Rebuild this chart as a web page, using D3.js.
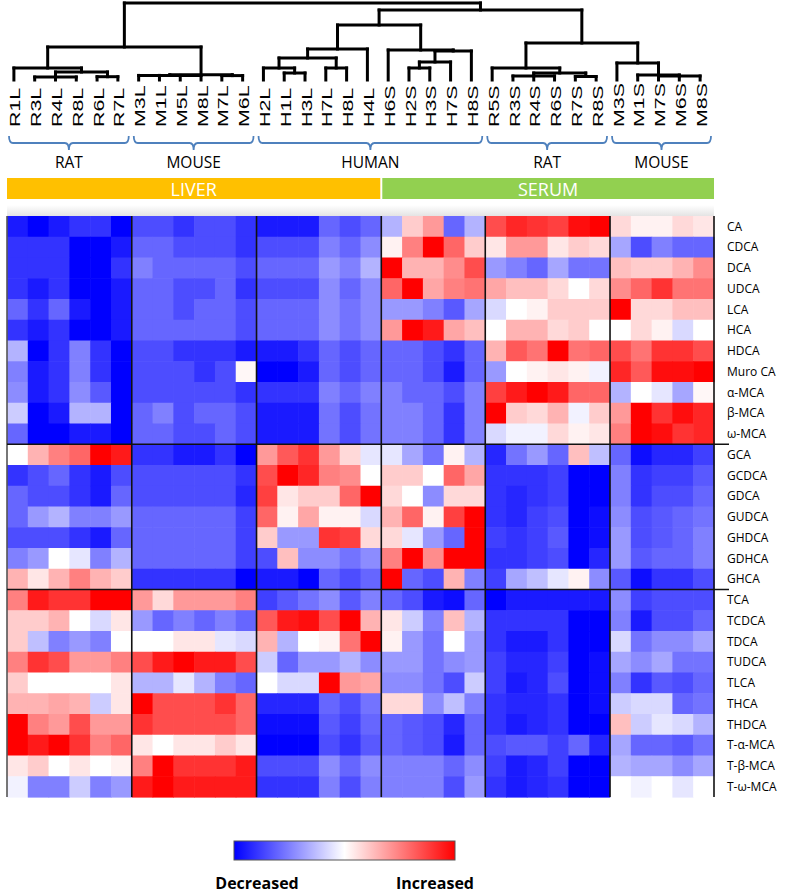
<!DOCTYPE html>
<html><head><meta charset="utf-8">
<script src="https://cdn.jsdelivr.net/npm/d3@7"></script>
<style>body{margin:0;background:#fff}svg{display:block}</style>
</head><body>
<svg id="chart" width="797" height="893"></svg>
<script>
// ---------------- DATA ----------------
const columns = ["R1L","R3L","R4L","R8L","R6L","R7L","M3L","M1L","M5L","M8L","M7L","M6L",
  "H2L","H1L","H3L","H7L","H8L","H4L","H6S","H2S","H3S","H7S","H8S",
  "R5S","R3S","R4S","R6S","R7S","R8S","M3S","M1S","M7S","M6S","M8S"];
const rowNames = ["CA","CDCA","DCA","UDCA","LCA","HCA","HDCA","Muro CA","α-MCA","β-MCA","ω-MCA",
  "GCA","GCDCA","GDCA","GUDCA","GHDCA","GDHCA","GHCA",
  "TCA","TCDCA","TDCA","TUDCA","TLCA","THCA","THDCA","T-α-MCA","T-β-MCA","T-ω-MCA"];
// relative change, in tenths (-10 strongest decrease, +10 strongest increase)
// column order: rat liver(6) | mouse liver(6) | human liver(6) | human serum(5) | rat serum(6) | mouse serum(5)
const freeAcids = [
 [-9,-10,-9,-8,-8,-10, -7,-7,-8,-7,-7,-8, -9,-9,-9,-6,-7,-6, -3,2,4,-6,-3, 7,8.5,8,7.5,9.5,10, 1.5,0.5,0.5,1.5,1],
 [-8,-8,-8,-10,-10,-9, -6,-6,-7,-7,-7,-8, -7,-7,-7,-5,-6,-4.5, 0.5,5,10,6,2, 1,4,4,1,2,1.5, -3.5,-7,-5,-6,-6],
 [-8,-8,-8,-10,-10,-8, -5,-6,-6,-6,-6,-7, -6,-6,-6,-4,-5,-3, 10,3,3,4.5,7, -4,-5,-6,-3.5,-5.5,-5.5, 2.5,2,2,3,4.5],
 [-8,-9,-8,-10,-10,-9, -6,-6,-7,-7,-6,-8, -7,-7,-7,-4.5,-6,-4.5, 6,10,3.5,5,5.5, 3.5,2.5,2.5,1.5,0,1.5, 4.5,6,8,5.5,5.5],
 [-6,-8,-6,-9,-10,-9, -6,-6,-7,-6,-6,-7, -6,-6,-6,-4.5,-5.5,-4.5, -4,-4,-5,-6.5,-3.5, -1.5,0,0.5,2,2,2, 10,1.5,1.5,2.5,2.5],
 [-8,-9,-8,-10,-10,-9, -6,-6,-6,-6,-6,-7, -6,-6,-6,-4.5,-5.5,-4.5, 4,10,9,3.5,2.5, 0,3,3,1.5,2,0, 0,1.5,0.5,-1.5,0],
 [-3,-10,-8,-5,-8,-10, -7,-7,-8,-8,-8,-9, -9,-9,-8,-6,-7,-6, -6,-6,-7,-8,-6, 3,6.5,5.5,10,5.5,6, 7,5.5,8,8,7],
 [-5,-9,-8,-5,-8,-10, -7,-7,-7,-8,-7,0.3, -10,-10,-9,-6,-7,-6, -6,-6,-7,-9,-6, -4,0,0.5,1,0.5,-0.5, 8.5,6.5,9.5,9.5,10],
 [-4.5,-9,-8,-4.5,-6.5,-10, -7,-7,-7,-7,-7,-8, -8,-8,-8,-5,-6,-5, -5,-6,-6,-7,-5, 7.5,9,10,9,6,6, -3,0,-1,-3.5,0.3],
 [-2,-10,-9,-3,-3,-10, -6,-5,-7,-6,-6,-7, -9,-9,-9,-5.5,-7,-5.5, -5,-5,-6,-8,-5, 10,2,1.5,3,-0.5,2, 4,10,8,9.5,8.5],
 [-6,-10,-10,-9,-9,-10, -6,-6,-7,-7,-6,-7, -9,-9,-9,-5.5,-7,-5.5, -5,-5,-6,-8,-5, -1.5,-0.5,-0.5,1.5,0.5,1, 5,10,9.5,8,8.5]
];
const glycineAcids = [
 [0,3,5,6,10,9, -8,-8,-9,-9,-8,-10, 4,6.5,8,4,1.5,-1, -1,-3.5,-5.5,0.5,-3, -8.5,-5.5,-4,-6,2.5,-2.5, -6,-9.5,-8.5,-8.5,-7.5],
 [-8,-7,-6,-8,-9,-7, -7,-7,-7,-7,-7,-8, 7,10,8.5,5,4.5,0, 2,2,0,6,3.5, -8,-8,-8,-7.5,-10,-10, -5,-8,-7.5,-7.5,-6.5],
 [-6,-7,-7,-8,-9,-6, -7,-7,-7,-7,-7,-8.5, 7.5,1,2,2,6,10, 1.5,0,-4.5,1.5,1.5, -8,-8.5,-8,-7.5,-10,-10, -5,-8,-7,-7,-6],
 [-6,-4,-3,-5,-5,-4, -6,-6,-6,-6,-6,-7.5, 6,0.5,3.5,0.5,0.5,-1.5, 3,6,0.5,7.5,10, -8,-8.5,-7.5,-7,-10,-9.5, -4.5,-7,-6.5,-6,-5.5],
 [-7,-7,-7,-8,-9,-6, -6,-6,-6,-6,-6,-7.5, 2,-4,-4,8,7.5,1.5, 1.5,-1,-4,-6,10, -7.5,-8,-7.5,-6.5,-10,-9.5, -4,-7,-6.5,-6,-5],
 [-5,-4,0,-1,-5,-3, -6,-6,-6,-6,-6,-7.5, -7,2.5,-4.5,-4.5,-5.5,-4.5, 5,10,4.5,10,10, -8,-8,-7.5,-7,-10,-8.5, -4,-6.5,-6,-6,-5],
 [3,1,3,5,3,2, -8,-8,-8,-8,-8,-10, -9,-9,-10,-6,-7,-6, 10,-6,-7,3,-5, -7.5,-3.5,-2.5,-1,0.5,-4.5, -6.5,-9.5,-8,-8,-7]
];
const taurineAcids = [
 [5,9,8,8,10,10, 4,1.5,4,4,4,5, -7.5,-6.5,-5.5,-4.5,-6.5,-5, -6,-7,-9,-9.5,-6, -10,-9,-9,-9,-9,-9, -4.5,-7.5,-7,-7,-7],
 [2,2,3,0,-1.5,1, -4,-6,-5,-6,-5,-6, 6.5,9,9.5,7,10,3, 1,-2,-5,2.5,-3, -8,-8,-8,-8,-10,-10, -5,-9,-7,-7,-6],
 [2,-2.5,-5,-4,-5,0, 0,0,1,1,-1,-1.5, 3,-3,0,0.5,5.5,10, 0.5,-4,-5.5,0,-4, -8,-9,-9,-8,-10,-10, -1.5,-5.5,-4.5,-4.5,-3.5],
 [5,8,7,4,4,5, 7,9,10,9,9,7, -2,-6,-4,-4,-3,-4.5, -4,-4,-5.5,-4.5,-4, -7.5,-8.5,-8.5,-7.5,-10,-9.5, -3.5,-4.5,-3.5,-5.5,-5.5],
 [2,0,0,0,0,1, -3,-3,-1,-3,-5,-6, 0,-1.5,-1.5,10,4,3.5, -4.5,-4.5,-5.5,-7,-2, -7.5,-9,-8.5,-7,-10,-9.5, -5,-8,-6.5,-7,-6],
 [3,3,3.5,3,-2,1, 10,7,7,7,8,6, -8.5,-8.5,-8.5,-6,-7,-5.5, 1.5,1.5,-4.5,-2.5,-5, -8,-8.5,-8.5,-8,-10,-9.5, -2,-1.5,-1.5,-6,-5.5],
 [10,5,4,7,4,4, 8,7,7,7,7,6, -9.5,-9.5,-9.5,-6.5,-7.5,-6, -6,-6.5,-7,-8.5,-6, -8,-9,-8.5,-8,-10,-10, 2.5,-2,-1,-1.5,-3],
 [10,9,10,8,5,6, 1,0,1,1,2,1, -10,-10,-10,-7,-8,-6.5, -6,-6.5,-7,-9,-6, -7,-6.5,-6.5,-7.5,-6,-8.5, -3.5,-6,-6,-6.5,-5.5],
 [1,2,0,1,0,0.5, 5,10,8,8,8,9, -7,-7,-7,-4.5,-6,-4.5, -5,-5,-5,-6,-4.5, -7.5,-9,-8.5,-7.5,-10,-10, -3,-3.5,-3.5,-4.5,-3.5],
 [-0.5,-5,-5,-2,-5,-4, 9,10,9,9,9,9, -8,-8,-8,-5,-7,-5, -5,-5,-5,-7,-4, -8,-9,-8.5,-8,-10,-10, 0,-0.5,0,-1,0]
];
const speciesGroups = [
 {label:"RAT",   from:"R1L", to:"R7L"},
 {label:"MOUSE", from:"M3L", to:"M6L"},
 {label:"HUMAN", from:"H2L", to:"H8S"},
 {label:"RAT",   from:"R5S", to:"R8S"},
 {label:"MOUSE", from:"M3S", to:"M8S"}
];
const tissueGroups = [
 {label:"LIVER", from:"R1L", to:"H4L"},
 {label:"SERUM", from:"H6S", to:"M8S"}
];
const colBreaks = ["M3L","H2L","H6S","R5S","M3S"];
const rowBreaks = ["GCA","TCA"];
// dendrogram: merge heights (arbitrary distance units)
const tree = {h:77, children:[
  {h:33, children:[
    {h:12, children:[{name:"R1L"},
      {h:8, children:[
        {h:3, children:[{name:"R3L"},{name:"R4L"},{name:"R8L"}]},
        {h:3.3, children:[{name:"R6L"},{name:"R7L"}]}]}]},
    {h:5.3, children:[
      {h:4.6, children:[{name:"M3L"},{name:"M1L"},{name:"M5L"},{name:"M8L"}]},
      {h:4.4, children:[{name:"M7L"},{name:"M6L"}]}]}]},
  {h:70, children:[
    {h:55, children:[
      {h:31, children:[
        {h:22, children:[
          {h:12, children:[{name:"H2L"},{h:7, children:[{name:"H1L"},{name:"H3L"}]}]},
          {h:12, children:[{name:"H7L"},{name:"H8L"}]}]},
        {name:"H4L"}]},
      {h:30, children:[{name:"H6S"},
        {h:29, children:[
          {h:18, children:[{h:12, children:[{name:"H2S"},{name:"H3S"}]},{name:"H7S"}]},
          {name:"H8S"}]}]}]},
    {h:37, children:[
      {h:12, children:[{name:"R5S"},
        {h:7, children:[
          {h:4, children:[{name:"R3S"},{name:"R4S"},{name:"R6S"}]},
          {h:3.5, children:[{name:"R7S"},{name:"R8S"}]}]}]},
      {h:17, children:[{name:"M3S"},
        {h:5, children:[{name:"M1S"},{h:4, children:[{name:"M7S"},{name:"M6S"},{name:"M8S"}]}]}]}]}]}]};

// ---------------- DRAW ----------------
const values = [...freeAcids, ...glycineAcids, ...taurineAcids];
const svg = d3.select("#chart");
const x = d3.scaleBand().domain(columns).range([7, 714]);
const y = d3.scaleBand().domain(rowNames).range([216, 797]);
const color = d3.scaleLinear().domain([-10, 0, 10]).range(["#0000ff", "#ffffff", "#ff0000"]);
const hScale = d3.scaleLinear().domain([0, 77]).range([80, 3]);
const bw = x.bandwidth(), bh = y.bandwidth();

const defs = svg.append("defs");
// faint shadow above heatmap
const sh = defs.append("linearGradient").attr("id", "shadow").attr("x1", 0).attr("x2", 0).attr("y1", 0).attr("y2", 1);
sh.append("stop").attr("offset", "0%").attr("stop-color", "#ffffff");
sh.append("stop").attr("offset", "100%").attr("stop-color", "#e4e4e4");
svg.append("rect").attr("x", 7).attr("y", 205).attr("width", 707).attr("height", 11).attr("fill", "url(#shadow)");

// heatmap cells
const cells = [];
values.forEach((row, i) => row.forEach((v, j) => cells.push({r: rowNames[i], c: columns[j], v})));
svg.append("g").selectAll("rect").data(cells).join("rect")
  .attr("x", d => x(d.c)).attr("y", d => y(d.r))
  .attr("width", bw + 0.6).attr("height", bh + 0.6)
  .attr("fill", d => color(d.v));

// separators
const sep = svg.append("g").attr("stroke", "#111").attr("stroke-width", 1.6);
colBreaks.forEach(c => sep.append("line").attr("x1", x(c)).attr("x2", x(c)).attr("y1", 216).attr("y2", 797));
sep.append("line").attr("x1", 714).attr("x2", 714).attr("y1", 216).attr("y2", 797);
sep.append("line").attr("x1", 7).attr("x2", 7).attr("y1", 216).attr("y2", 797).attr("stroke", "#555");
rowBreaks.forEach(r => sep.append("line").attr("x1", 7).attr("x2", 729).attr("y1", y(r)).attr("y2", y(r)));

// row labels
svg.append("g").selectAll("text").data(rowNames).join("text")
  .attr("x", 727).attr("y", d => y(d) + bh / 2).attr("dy", "0.35em")
  .attr("font-family", "Open Sans, Liberation Sans, sans-serif").attr("font-size", 12)
  .attr("fill", "#000").text(d => d);

// column labels (stretched, rotated)
svg.append("g").selectAll("text").data(columns).join("text")
  .attr("transform", d => `translate(${x(d) + bw / 2 - 2.5},127) rotate(-90) scale(1.38,1)`)
  .attr("dy", "0.36em")
  .attr("font-family", "Liberation Sans, Arial, sans-serif").attr("font-size", 15.5)
  .attr("fill", "#000").text(d => d);

// dendrogram
const root = d3.hierarchy(tree);
root.eachAfter(n => {
  if (!n.children) { n.px = x(n.data.name) + bw / 2 - 3.5; n.py = hScale(0); }
  else { n.px = (n.children[0].px + n.children[n.children.length - 1].px) / 2; n.py = hScale(n.data.h); }
});
const dg = svg.append("g").attr("stroke", "#000").attr("stroke-width", 3).attr("fill", "none").attr("stroke-linecap", "square");
root.each(n => {
  if (!n.children) return;
  const kids = n.children;
  dg.append("line").attr("x1", kids[0].px).attr("x2", kids[kids.length - 1].px).attr("y1", n.py).attr("y2", n.py);
  kids.forEach(k => dg.append("line").attr("x1", k.px).attr("x2", k.px).attr("y1", n.py).attr("y2", k.py));
});

// species brackets
const bg = svg.append("g");
speciesGroups.forEach(g => {
  const x0 = x(g.from) + 2, x1 = x(g.to) + bw - 3, xm = (x0 + x1) / 2;
  const yb = 143, r = 4;
  bg.append("path")
    .attr("d", `M${x0},${yb - 7} Q${x0},${yb} ${x0 + r},${yb} L${xm - r},${yb} Q${xm},${yb} ${xm},${yb + 7} Q${xm},${yb} ${xm + r},${yb} L${x1 - r},${yb} Q${x1},${yb} ${x1},${yb - 7}`)
    .attr("fill", "none").attr("stroke", "#4f81bd").attr("stroke-width", 1.8);
  bg.append("text").attr("x", xm).attr("y", 168).attr("text-anchor", "middle")
    .attr("font-family", "Open Sans, sans-serif").attr("font-size", 15.5).attr("fill", "#000").text(g.label);
});

// tissue bars
const tissueColor = d3.scaleOrdinal().domain(["LIVER", "SERUM"]).range(["#ffc000", "#92d050"]);
tissueGroups.forEach((g, i) => {
  const x0 = x(g.from) + (i ? 1 : 0), x1 = x(g.to) + bw - (i ? 0 : 1);
  svg.append("rect").attr("x", x0).attr("y", 178).attr("width", x1 - x0).attr("height", 21).attr("fill", tissueColor(g.label));
  svg.append("text").attr("x", (x0 + x1) / 2).attr("y", 196).attr("text-anchor", "middle")
    .attr("font-family", "Open Sans, sans-serif").attr("font-size", 18).attr("fill", "#fff").text(g.label);
});

// legend
const grad = defs.append("linearGradient").attr("id", "lg");
[-10, 0, 10].forEach((v, i) => grad.append("stop").attr("offset", `${i * 50}%`).attr("stop-color", color(v)));
svg.append("rect").attr("x", 234).attr("y", 841).attr("width", 221).attr("height", 19)
  .attr("fill", "url(#lg)").attr("stroke", "#555").attr("stroke-width", 1);
const legendLabels = ["Decreased", "Increased"];
svg.selectAll(".leg").data(legendLabels).join("text").attr("class", "leg")
  .attr("x", (d, i) => i ? 435 : 257).attr("y", 889).attr("text-anchor", "middle")
  .attr("font-family", "Open Sans, sans-serif").attr("font-weight", "bold").attr("font-size", 16)
  .attr("fill", "#000").text(d => d);
</script>
</body></html>
